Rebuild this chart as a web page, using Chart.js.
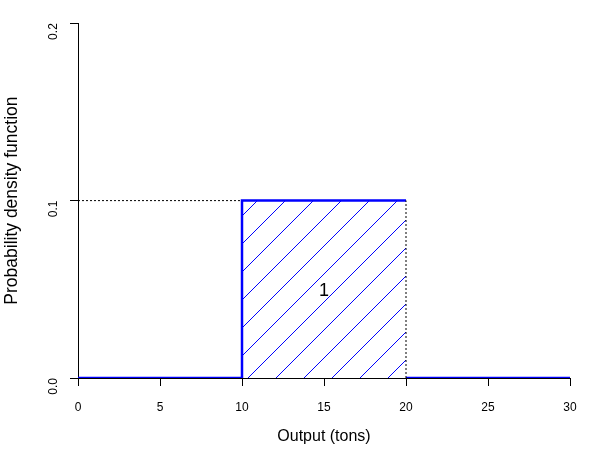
<!DOCTYPE html>
<html><head><meta charset="utf-8">
<script src="https://cdn.jsdelivr.net/npm/chart.js@4.4.1/dist/chart.umd.min.js"></script>
<style>html,body{margin:0;padding:0;background:#fff}#wrap{width:600px;height:450px}</style>
</head><body><div id="wrap"><canvas id="c" width="600" height="450"></canvas></div>
<script>
const xTicks = [0, 5, 10, 15, 20, 25, 30];
const yTicks = [0.0, 0.1, 0.2];
const lower = 10, upper = 20, density = 0.1;
const pdfX = [0, 10, 10, 20, 20, 20, 30];
const pdfY = [0, 0, 0.1, 0.1, null, 0, 0];
const areaLabel = "1";

const pdfData = pdfX.map((x, i) => ({x: x, y: pdfY[i]}));
const font = "'Liberation Sans', Arial, sans-serif";

const hatchPlugin = {
  id: 'hatch',
  beforeDatasetsDraw(chart) {
    const {ctx, scales: {x, y}} = chart;
    const x0 = x.getPixelForValue(lower), x1 = x.getPixelForValue(upper);
    const y0 = y.getPixelForValue(0), y1 = y.getPixelForValue(density);
    ctx.save();
    ctx.beginPath();
    ctx.rect(x0, y1, x1 - x0, y0 - y1);
    ctx.clip();
    ctx.strokeStyle = '#0000ff';
    ctx.lineWidth = 1;
    const h = y0 - y1;
    for (let s = x0 + 6 - 28 * 7; s < x1 + 1; s += 28) {
      ctx.beginPath();
      ctx.moveTo(s, y0);
      ctx.lineTo(s + h, y1);
      ctx.stroke();
    }
    ctx.restore();
  },
  afterDatasetsDraw(chart) {
    const {ctx, scales: {x, y}} = chart;
    ctx.save();
    ctx.fillStyle = '#000';
    ctx.font = "18px " + font;
    ctx.textAlign = 'center';
    ctx.textBaseline = 'middle';
    ctx.fillText(areaLabel, x.getPixelForValue((lower + upper) / 2), y.getPixelForValue(density / 2) + 2);
    ctx.restore();
  }
};

new Chart(document.getElementById('c'), {
  type: 'scatter',
  data: {
    datasets: [
      { data: [{x: 0, y: density}, {x: lower, y: density}], showLine: true, borderColor: '#000', borderWidth: 1, borderDash: [2, 2], pointRadius: 0 },
      { data: [{x: upper, y: 0}, {x: upper, y: density}], showLine: true, borderColor: '#000', borderWidth: 1, borderDash: [2, 2], pointRadius: 0 },
      { data: pdfData, showLine: true, spanGaps: false, borderColor: '#0000ff', borderWidth: 2.5, pointRadius: 0 }
    ]
  },
  plugins: [hatchPlugin],
  options: {
    responsive: false,
    animation: false,
    layout: { padding: { top: 23, right: 30, left: 0, bottom: 0 } },
    plugins: { legend: { display: false }, tooltip: { enabled: false } },
    scales: {
      x: {
        type: 'linear', min: 0, max: 30,
        afterBuildTicks: s => { s.ticks = xTicks.map(v => ({value: v})); },
        afterFit: s => { s.height = 72; },
        grid: { drawOnChartArea: false, drawTicks: true, tickLength: 8, color: '#000' },
        border: { display: true, color: '#000', width: 1 },
        ticks: { color: '#000', font: { family: font, size: 12 }, padding: 14, maxRotation: 0 },
        title: { display: true, text: 'Output (tons)', color: '#000', font: { family: font, size: 16 }, padding: { top: 8 } }
      },
      y: {
        type: 'linear', min: 0, max: 0.2,
        afterBuildTicks: s => { s.ticks = yTicks.map(v => ({value: v})); },
        afterFit: s => { s.width = 78; },
        grid: { drawOnChartArea: false, drawTicks: true, tickLength: 8, color: '#000' },
        border: { display: true, color: '#000', width: 1 },
        ticks: { color: '#000', font: { family: font, size: 12 }, padding: 16, minRotation: 90, maxRotation: 90, callback: v => v.toFixed(1) },
        title: { display: true, text: 'Probability density function', color: '#000', font: { family: font, size: 17.5 }, padding: { bottom: 0, top: 2 } }
      }
    }
  }
});
</script></body></html>
